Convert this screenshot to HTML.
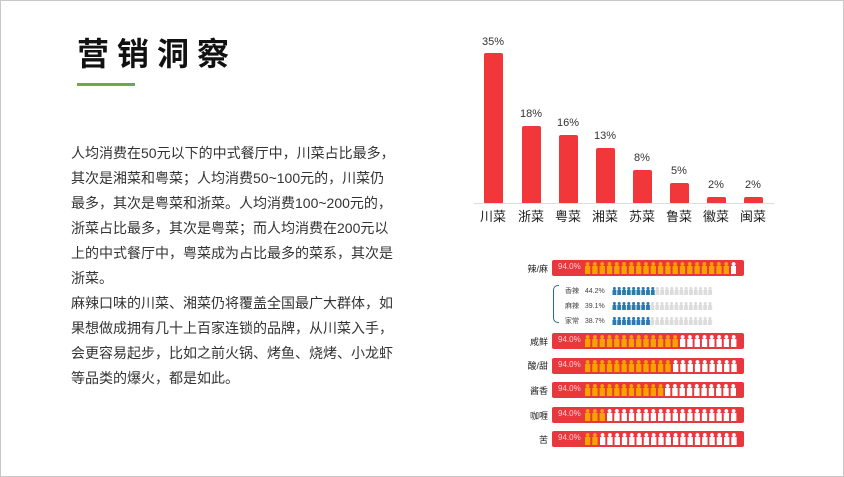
<!DOCTYPE html>
<html><head><meta charset="utf-8"><style>
*{margin:0;padding:0;box-sizing:border-box}
body{width:844px;height:477px;background:#fff;position:relative;overflow:hidden;font-family:"Liberation Sans","Noto Sans CJK SC",sans-serif}
.frame{position:absolute;left:0;top:0;width:844px;height:477px;border:1px solid #c8c8c8}
.title{position:absolute;left:77px;top:34px;font-size:32px;font-weight:bold;letter-spacing:8px;color:#111;line-height:40px}
.gl{position:absolute;left:77px;top:83px;width:58px;height:3px;background:#70a845}
.txt{position:absolute;left:71px;top:141px;font-size:14px;line-height:25px;color:#333;white-space:nowrap}
.a{position:absolute}
.bar{position:absolute;background:#f2373b;width:19px;border-radius:2px 2px 0 0}
.pl{position:absolute;font-size:11px;color:#333;width:40px;text-align:center}
.cl{position:absolute;font-size:13px;color:#222;width:40px;text-align:center;top:206px}
.rb{position:absolute;left:552px;width:192px;height:16px;background:#e8373d;border-radius:2px}
.rb span{position:absolute;left:6px;top:2px;font-size:8px;color:#fbd0d0}
.ic{position:absolute;top:2px;height:12px}
.o{background:radial-gradient(circle at 3.6px 2px,#f7a200 1.8px,transparent 2.1px),linear-gradient(to right,transparent 1.1px,#f7a200 1.1px,#f7a200 6.1px,transparent 6.1px);background-size:7.3px 12px,7.3px 8px;background-position:0 0,0 4px;background-repeat:repeat-x}
.w{background:radial-gradient(circle at 3.6px 2px,#fff 1.8px,transparent 2.1px),linear-gradient(to right,transparent 1.1px,#fff 1.1px,#fff 6.1px,transparent 6.1px);background-size:7.3px 12px,7.3px 8px;background-position:0 0,0 4px;background-repeat:repeat-x}
.rl{position:absolute;left:515px;width:33px;text-align:right;font-size:9px;color:#222}
.sb{position:absolute;height:8px}
.bl{background:radial-gradient(circle at 2.4px 1.5px,#2a7ab0 1.4px,transparent 1.7px),linear-gradient(to right,transparent 0.7px,#2a7ab0 0.7px,#2a7ab0 4.1px,transparent 4.1px);background-size:4.8px 8px,4.8px 5px;background-position:0 0,0 3px;background-repeat:repeat-x}
.gr{background:radial-gradient(circle at 2.4px 1.5px,#dcdcdc 1.4px,transparent 1.7px),linear-gradient(to right,transparent 0.7px,#dcdcdc 0.7px,#dcdcdc 4.1px,transparent 4.1px);background-size:4.8px 8px,4.8px 5px;background-position:0 0,0 3px;background-repeat:repeat-x}
.sl{position:absolute;font-size:7px;color:#444}
</style></head><body>
<div class="frame"></div>
<div class="title">营销洞察</div>
<div class="gl"></div>
<div class="txt">人均消费在50元以下的中式餐厅中，川菜占比最多，<br>其次是湘菜和粤菜；人均消费50~100元的，川菜仍<br>最多，其次是粤菜和浙菜。人均消费100~200元的，<br>浙菜占比最多，其次是粤菜；而人均消费在200元以<br>上的中式餐厅中，粤菜成为占比最多的菜系，其次是<br>浙菜。<br>麻辣口味的川菜、湘菜仍将覆盖全国最广大群体，如<br>果想做成拥有几十上百家连锁的品牌，从川菜入手，<br>会更容易起步，比如之前火锅、烤鱼、烧烤、小龙虾<br>等品类的爆火，都是如此。</div>

<div class="a" style="left:474px;top:203px;width:300px;height:1px;background:#ddd"></div>
<div class="bar" style="left:484px;top:53px;height:150px"></div>
<div class="bar" style="left:522px;top:126px;height:77px"></div>
<div class="bar" style="left:559px;top:135px;height:68px"></div>
<div class="bar" style="left:596px;top:148px;height:55px"></div>
<div class="bar" style="left:633px;top:170px;height:33px"></div>
<div class="bar" style="left:670px;top:183px;height:20px"></div>
<div class="bar" style="left:707px;top:197px;height:6px"></div>
<div class="bar" style="left:744px;top:197px;height:6px"></div>
<div class="pl" style="left:473px;top:36px">35%</div>
<div class="pl" style="left:511px;top:108px">18%</div>
<div class="pl" style="left:548px;top:117px">16%</div>
<div class="pl" style="left:585px;top:130px">13%</div>
<div class="pl" style="left:622px;top:152px">8%</div>
<div class="pl" style="left:659px;top:165px">5%</div>
<div class="pl" style="left:696px;top:179px">2%</div>
<div class="pl" style="left:733px;top:179px">2%</div>
<div class="cl" style="left:473px">川菜</div>
<div class="cl" style="left:511px">浙菜</div>
<div class="cl" style="left:548px">粤菜</div>
<div class="cl" style="left:585px">湘菜</div>
<div class="cl" style="left:622px">苏菜</div>
<div class="cl" style="left:659px">鲁菜</div>
<div class="cl" style="left:696px">徽菜</div>
<div class="cl" style="left:733px">闽菜</div>

<div class="rl" style="top:262px">辣/麻</div>
<div class="rb" style="top:260px"><span>94.0%</span><div class="ic o" style="left:32px;width:146px"></div><div class="ic w" style="left:178px;width:7.3px"></div></div>
<div class="a" style="left:553px;top:285px;width:6px;height:38px;border:1.5px solid #2a6a90;border-right:none;border-radius:5px 0 0 5px"></div>
<div class="sl" style="left:565px;top:286px">香辣&nbsp;&nbsp;&nbsp;44.2%</div>
<div class="sl" style="left:565px;top:301px">麻辣&nbsp;&nbsp;&nbsp;39.1%</div>
<div class="sl" style="left:565px;top:316px">家常&nbsp;&nbsp;&nbsp;38.7%</div>
<div class="sb bl" style="left:612px;top:287px;width:43.2px"></div><div class="sb gr" style="left:655.2px;top:287px;width:57.6px"></div>
<div class="sb bl" style="left:612px;top:302px;width:38.4px"></div><div class="sb gr" style="left:650.4px;top:302px;width:62.4px"></div>
<div class="sb bl" style="left:612px;top:317px;width:38.4px"></div><div class="sb gr" style="left:650.4px;top:317px;width:62.4px"></div>

<div class="rl" style="top:335px">咸鲜</div>
<div class="rb" style="top:333px"><span>94.0%</span><div class="ic o" style="left:32px;width:94.9px"></div><div class="ic w" style="left:126.9px;width:58.4px"></div></div>
<div class="rl" style="top:359px">酸/甜</div>
<div class="rb" style="top:358px"><span>94.0%</span><div class="ic o" style="left:32px;width:87.6px"></div><div class="ic w" style="left:119.6px;width:65.7px"></div></div>
<div class="rl" style="top:384px">酱香</div>
<div class="rb" style="top:382px"><span>94.0%</span><div class="ic o" style="left:32px;width:80.3px"></div><div class="ic w" style="left:112.3px;width:73px"></div></div>
<div class="rl" style="top:409px">咖喱</div>
<div class="rb" style="top:407px"><span>94.0%</span><div class="ic o" style="left:32px;width:21.9px"></div><div class="ic w" style="left:53.9px;width:131.4px"></div></div>
<div class="rl" style="top:433px">苦</div>
<div class="rb" style="top:431px"><span>94.0%</span><div class="ic o" style="left:32px;width:14.6px"></div><div class="ic w" style="left:46.6px;width:138.7px"></div></div>
</body></html>
